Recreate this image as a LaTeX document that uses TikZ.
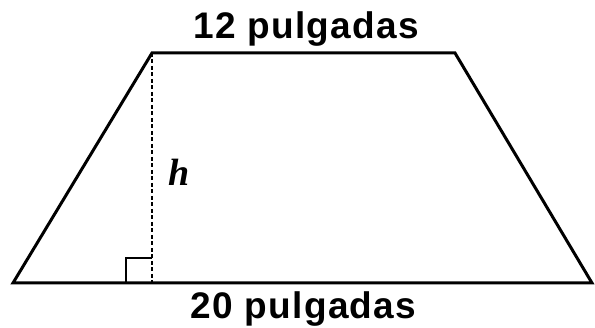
\documentclass[tikz,border=0pt]{standalone}
\usepackage{fontspec}
\setmainfont{Liberation Sans}
\newfontfamily\lblfont[LetterSpace=3.5]{Liberation Sans}
\newfontfamily\hfont{Liberation Serif}
\usepackage{tikz}
\usetikzlibrary{positioning,calc}

\begin{document}
\begin{tikzpicture}[x=1pt,y=1pt,edge/.style={line width=3pt,line join=miter,draw=black},height/.style={line width=2pt,dash pattern=on 4pt off 2.5pt},lbl/.style={font=\fontsize{37}{40}\selectfont\lblfont\bfseries,anchor=base,inner sep=0pt}]
\useasboundingbox (0,0) rectangle (595,328);
\coordinate (bl) at (13,45);
\coordinate (br) at (592,45);
\coordinate (tr) at (455,275);
\coordinate (tl) at (152,275);
\coordinate (foot) at (152,45);
\draw[edge] (bl) -- (br) -- (tr) -- (tl) -- cycle;
\draw[height] (tl) -- (foot);
\draw[line width=2pt] ($(foot)+(-26,0)$) |- ($(foot)+(0,25)$);
\node[lbl] (top) at (306,289) {12 pulgadas};
\node[lbl] (bot) at (303.5,9) {20 pulgadas};
\node[font=\fontsize{38}{40}\selectfont\hfont\bfseries\itshape,anchor=base,inner sep=0pt] (h) at (179,142) {h};
\end{tikzpicture}
\end{document}
